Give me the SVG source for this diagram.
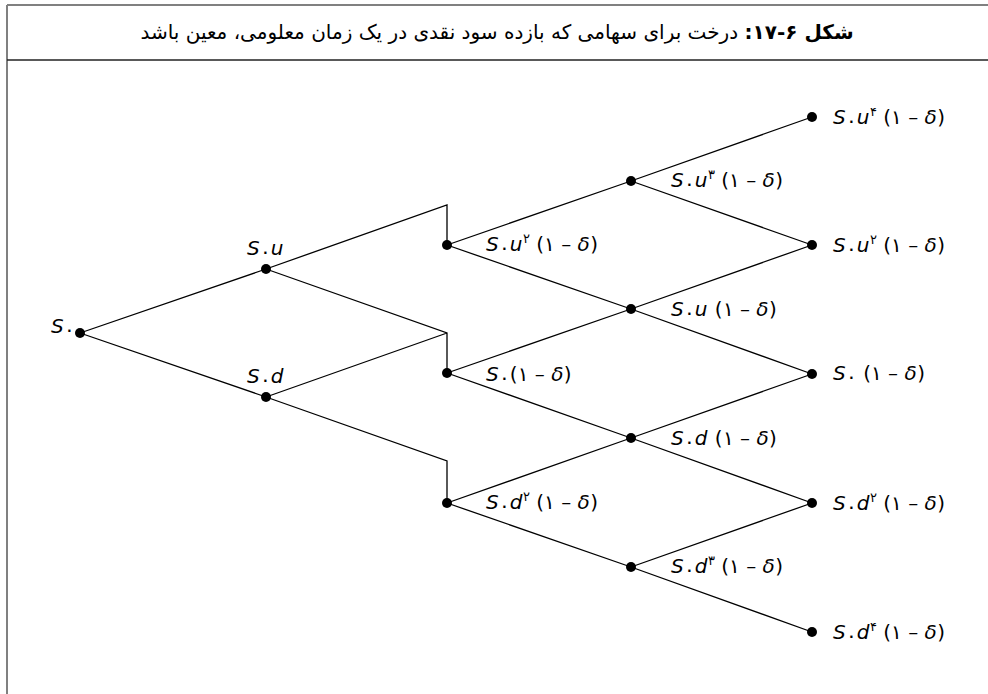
<svg xmlns="http://www.w3.org/2000/svg" width="988" height="694" viewBox="0 0 988 694">
<style>
.frame{stroke:#808080;stroke-width:2;fill:none}
.div{stroke:#222;stroke-width:1.5;fill:none}
.edge{stroke:#000;stroke-width:1.3;fill:none}
.dot{fill:#000}
.title{font-family:"DejaVu Sans",sans-serif;font-size:20px;fill:#000}
.lbl{font-family:"DejaVu Sans",sans-serif;font-size:20px;letter-spacing:0.4px;fill:#000}
.it{font-style:italic}
.sup{font-size:13px}
</style>
<rect width="988" height="694" fill="#fff"/>
<g id="frame">
<line class="frame" x1="7" y1="5" x2="988" y2="5"/>
<line class="frame" x1="7" y1="5" x2="7" y2="694"/>
<line class="div" x1="7" y1="60" x2="988" y2="60"/>
</g>
<g id="title">
<text class="title" x="497" y="39" text-anchor="middle" direction="rtl" unicode-bidi="embed"><tspan font-weight="bold">شکل ۶-۱۷:</tspan> درخت برای سهامی که بازده سود نقدی در یک زمان معلومی، معین باشد</text>
</g>
<g id="connectors">
<path class="edge" d="M80,333 L266,269 M80,333 L266,397"/>
<path class="edge" d="M266,269 L447,205 L447,245 M266,269 L447,333 L447,373 M266,397 L447,333 M266,397 L447,461 L447,503"/>
<path class="edge" d="M447,245 L631,181 M447,245 L631,309 M447,373 L631,309 M447,373 L631,438 M447,503 L631,438 M447,503 L631,567"/>
<path class="edge" d="M631,181 L812,117 M631,181 L812,245 M631,309 L812,245 M631,309 L812,374 M631,438 L812,374 M631,438 L812,503 M631,567 L812,503 M631,567 L812,632"/>
</g>
<g id="n0"><circle class="dot" cx="80" cy="333" r="5"/><text class="lbl" x="51" y="333" direction="ltr"><tspan class="it">S</tspan><tspan dy="3">۰</tspan></text></g>
<g id="n1u"><circle class="dot" cx="266" cy="269" r="5"/><text class="lbl" x="247" y="255" direction="ltr"><tspan class="it">S</tspan><tspan dy="3">۰</tspan><tspan class="it" dy="-3">u</tspan></text></g>
<g id="n1d"><circle class="dot" cx="266" cy="397" r="5"/><text class="lbl" x="247" y="383" direction="ltr"><tspan class="it">S</tspan><tspan dy="3">۰</tspan><tspan class="it" dy="-3">d</tspan></text></g>
<g id="n2a"><circle class="dot" cx="447" cy="245" r="5"/><text class="lbl" x="486" y="251" direction="ltr"><tspan class="it">S</tspan><tspan dy="3">۰</tspan><tspan class="it" dy="-3">u</tspan><tspan class="sup" dy="-8">۲</tspan><tspan dy="8"> (۱ – </tspan><tspan class="it">δ</tspan>)</text></g>
<g id="n2b"><circle class="dot" cx="447" cy="373" r="5"/><text class="lbl" x="486" y="381" direction="ltr"><tspan class="it">S</tspan><tspan dy="3">۰</tspan><tspan dy="-3">(۱ – </tspan><tspan class="it">δ</tspan>)</text></g>
<g id="n2c"><circle class="dot" cx="447" cy="503" r="5"/><text class="lbl" x="486" y="509" direction="ltr"><tspan class="it">S</tspan><tspan dy="3">۰</tspan><tspan class="it" dy="-3">d</tspan><tspan class="sup" dy="-8">۲</tspan><tspan dy="8"> (۱ – </tspan><tspan class="it">δ</tspan>)</text></g>
<g id="n3a"><circle class="dot" cx="631" cy="181" r="5"/><text class="lbl" x="671" y="187" direction="ltr"><tspan class="it">S</tspan><tspan dy="3">۰</tspan><tspan class="it" dy="-3">u</tspan><tspan class="sup" dy="-8">۳</tspan><tspan dy="8"> (۱ – </tspan><tspan class="it">δ</tspan>)</text></g>
<g id="n3b"><circle class="dot" cx="631" cy="309" r="5"/><text class="lbl" x="671" y="316" direction="ltr"><tspan class="it">S</tspan><tspan dy="3">۰</tspan><tspan class="it" dy="-3">u</tspan> (۱ – <tspan class="it">δ</tspan>)</text></g>
<g id="n3c"><circle class="dot" cx="631" cy="438" r="5"/><text class="lbl" x="671" y="445" direction="ltr"><tspan class="it">S</tspan><tspan dy="3">۰</tspan><tspan class="it" dy="-3">d</tspan> (۱ – <tspan class="it">δ</tspan>)</text></g>
<g id="n3d"><circle class="dot" cx="631" cy="567" r="5"/><text class="lbl" x="671" y="573" direction="ltr"><tspan class="it">S</tspan><tspan dy="3">۰</tspan><tspan class="it" dy="-3">d</tspan><tspan class="sup" dy="-8">۳</tspan><tspan dy="8"> (۱ – </tspan><tspan class="it">δ</tspan>)</text></g>
<g id="n4a"><circle class="dot" cx="812" cy="117" r="5"/><text class="lbl" x="833" y="124" direction="ltr"><tspan class="it">S</tspan><tspan dy="3">۰</tspan><tspan class="it" dy="-3">u</tspan><tspan class="sup" dy="-8">۴</tspan><tspan dy="8"> (۱ – </tspan><tspan class="it">δ</tspan>)</text></g>
<g id="n4b"><circle class="dot" cx="812" cy="245" r="5"/><text class="lbl" x="833" y="252" direction="ltr"><tspan class="it">S</tspan><tspan dy="3">۰</tspan><tspan class="it" dy="-3">u</tspan><tspan class="sup" dy="-8">۲</tspan><tspan dy="8"> (۱ – </tspan><tspan class="it">δ</tspan>)</text></g>
<g id="n4c"><circle class="dot" cx="812" cy="374" r="5"/><text class="lbl" x="833" y="380" direction="ltr"><tspan class="it">S</tspan><tspan dy="3">۰</tspan><tspan dy="-3">  (۱ – </tspan><tspan class="it">δ</tspan>)</text></g>
<g id="n4d"><circle class="dot" cx="812" cy="503" r="5"/><text class="lbl" x="833" y="510" direction="ltr"><tspan class="it">S</tspan><tspan dy="3">۰</tspan><tspan class="it" dy="-3">d</tspan><tspan class="sup" dy="-8">۲</tspan><tspan dy="8"> (۱ – </tspan><tspan class="it">δ</tspan>)</text></g>
<g id="n4e"><circle class="dot" cx="812" cy="632" r="5"/><text class="lbl" x="833" y="639" direction="ltr"><tspan class="it">S</tspan><tspan dy="3">۰</tspan><tspan class="it" dy="-3">d</tspan><tspan class="sup" dy="-8">۴</tspan><tspan dy="8"> (۱ – </tspan><tspan class="it">δ</tspan>)</text></g>
</svg>
